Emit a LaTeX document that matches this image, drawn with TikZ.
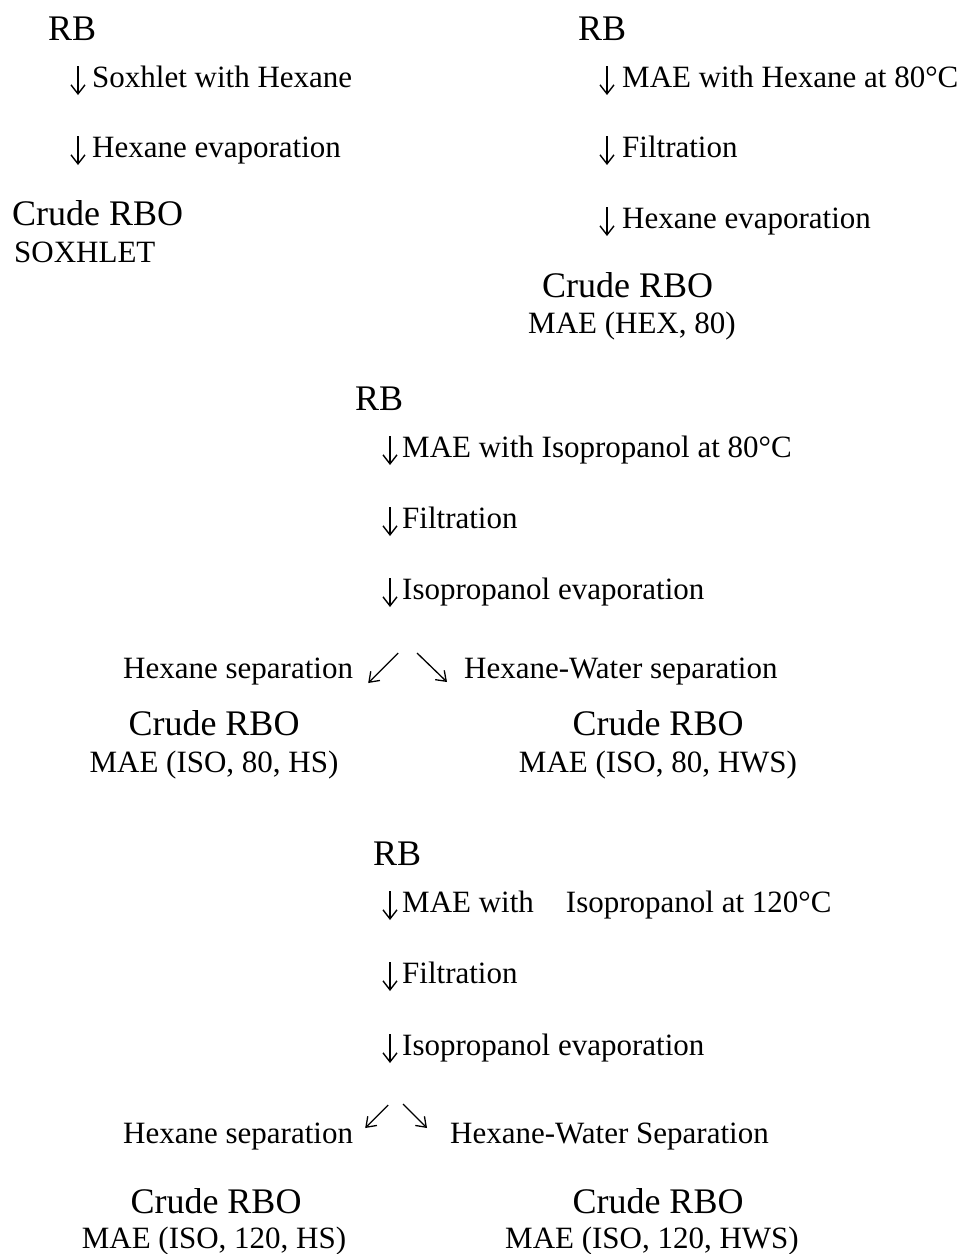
\documentclass[tikz,border=0pt]{standalone}
\usepackage{fontspec}
\setmainfont{Liberation Serif}
\usetikzlibrary{arrows.meta}
\tikzset{
  big/.style={font=\fontsize{36}{40}\selectfont, inner sep=0pt},
  small/.style={font=\fontsize{31}{34}\selectfont, inner sep=0pt},
  down/.style={line width=1.4pt, -{Straight Barb[length=9pt,width=14pt,line width=1.4pt]}},
  slant/.style={line width=1.3pt, -{Straight Barb[length=9pt,width=13pt,line width=1.3pt]}}
}
\begin{document}
\begin{tikzpicture}[x=1pt,y=1pt]
\useasboundingbox (0,0) rectangle (961,-1254);
% soxhlet
\node[big, anchor=base west] (rbA) at (48,-40){RB};
\node[small, anchor=base west] (sA1) at (92,-87){Soxhlet with Hexane};
\node[small, anchor=base west] (sA2) at (92,-157){Hexane evaporation};
\node[big, anchor=base west] (crA) at (12,-225){Crude RBO};
\node[small, anchor=base west] (lbA) at (14,-262){SOXHLET};
\foreach \s in {sA1,sA2}
  \draw[down] ([shift={(-14,21)}]\s.base west) -- ([shift={(-14,-8)}]\s.base west);
% MAE hexane
\node[big, anchor=base west] (rbB) at (578,-40){RB};
\node[small, anchor=base west] (sB1) at (622,-87){MAE with Hexane at 80°C};
\node[small, anchor=base west] (sB2) at (622,-157){Filtration};
\node[small, anchor=base west] (sB3) at (622,-228){Hexane evaporation};
\node[big, anchor=base west] (crB) at (542,-297){Crude RBO};
\node[small, anchor=base west] (lbB) at (528,-333){MAE (HEX, 80)};
\foreach \s in {sB1,sB2,sB3}
  \draw[down] ([shift={(-15,21)}]\s.base west) -- ([shift={(-15,-8)}]\s.base west);
% MAE isopropanol 80
\node[big, anchor=base west] (rbC) at (355,-410){RB};
\node[small, anchor=base west] (sC1) at (402,-457){MAE with Isopropanol at 80°C};
\node[small, anchor=base west] (sC2) at (402,-528){Filtration};
\node[small, anchor=base west] (sC3) at (402,-599){Isopropanol evaporation};
\foreach \s in {sC1,sC2,sC3}
  \draw[down] ([shift={(-12,21)}]\s.base west) -- ([shift={(-12,-8)}]\s.base west);
\node[small, anchor=base west] (hsC) at (123,-678){Hexane separation};
\node[small, anchor=base west] (hwC) at (464,-678){Hexane-Water separation};
\draw[slant] ([shift={(45,25)}]hsC.base east) -- ([shift={(15,-5)}]hsC.base east);
\draw[slant] ([shift={(-47,25)}]hwC.base west) -- ([shift={(-17,-4)}]hwC.base west);
\node[big, anchor=base] (crC1) at (214,-735){Crude RBO};
\node[small, anchor=base] (lbC1) at (214,-772){MAE (ISO, 80, HS)};
\node[big, anchor=base] (crC2) at (658,-735){Crude RBO};
\node[small, anchor=base] (lbC2) at (658,-772){MAE (ISO, 80, HWS)};
% MAE isopropanol 120
\node[big, anchor=base west] (rbD) at (373,-865){RB};
\node[small, anchor=base west] (sD1) at (402,-912){MAE with\hspace{32pt}Isopropanol at 120°C};
\node[small, anchor=base west] (sD2) at (402,-983){Filtration};
\node[small, anchor=base west] (sD3) at (402,-1055){Isopropanol evaporation};
\foreach \s in {sD1,sD2,sD3}
  \draw[down] ([shift={(-12,21)}]\s.base west) -- ([shift={(-12,-8)}]\s.base west);
\node[small, anchor=base west] (hsD) at (123,-1143){Hexane separation};
\node[small, anchor=base west] (hwD) at (450,-1143){Hexane-Water Separation};
\draw[slant] ([shift={(35,38)}]hsD.base east) -- ([shift={(12,15)}]hsD.base east);
\draw[slant] ([shift={(-47,39)}]hwD.base west) -- ([shift={(-23,15)}]hwD.base west);
\node[big, anchor=base] (crD1) at (216,-1213){Crude RBO};
\node[small, anchor=base] (lbD1) at (214,-1248){MAE (ISO, 120, HS)};
\node[big, anchor=base] (crD2) at (658,-1213){Crude RBO};
\node[small, anchor=base] (lbD2) at (652,-1248){MAE (ISO, 120, HWS)};
\end{tikzpicture}
\end{document}
